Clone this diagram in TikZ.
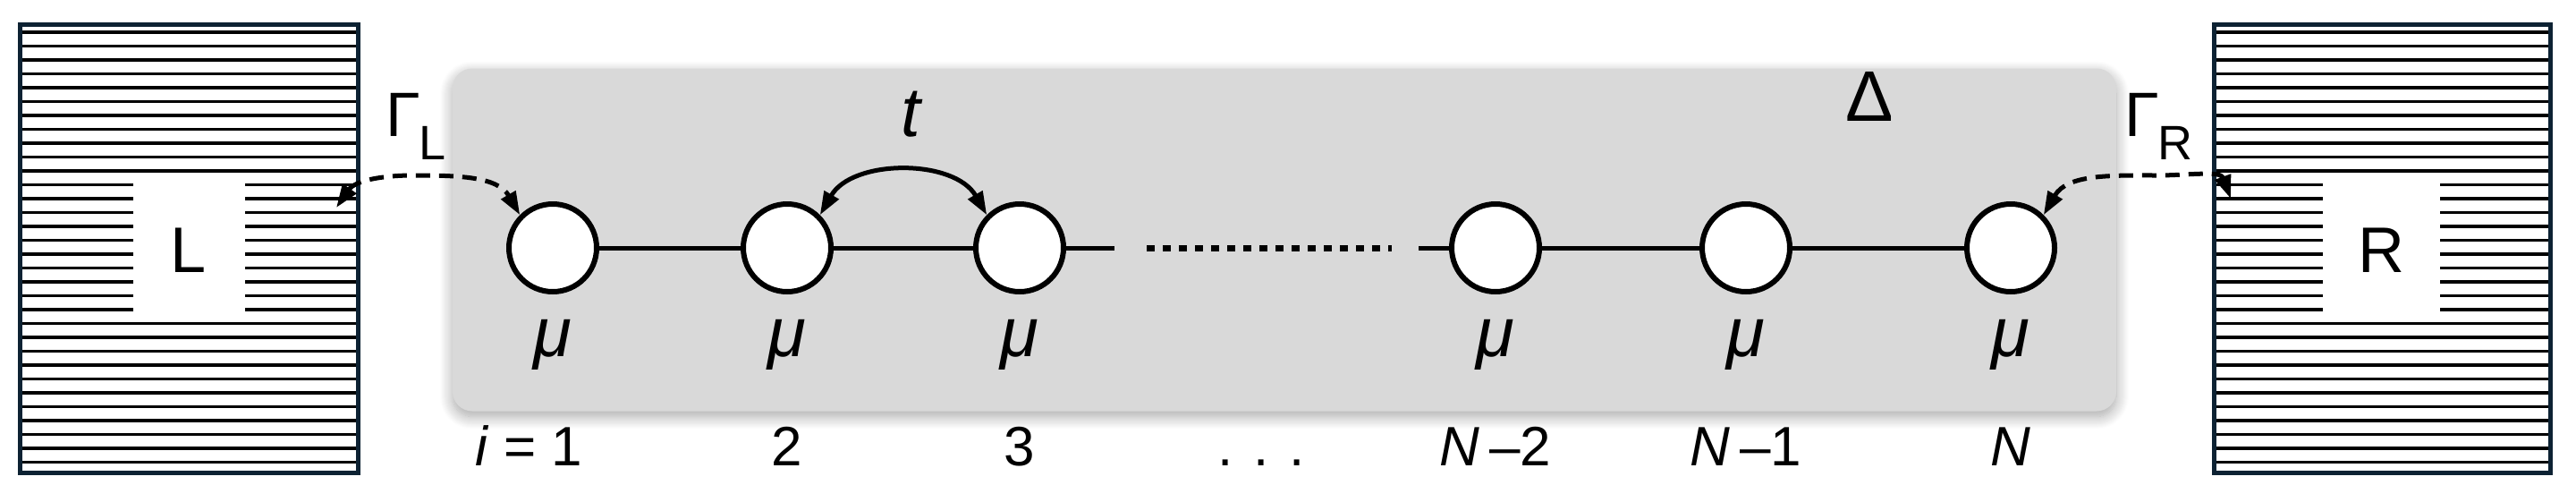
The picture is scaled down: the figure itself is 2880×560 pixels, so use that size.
\documentclass[tikz,border=0pt]{standalone}
\usepackage{fontspec}
\setmainfont{Liberation Sans}
\usetikzlibrary{shadows.blur,arrows.meta}
\definecolor{boxc}{HTML}{0D2233}
\definecolor{grayc}{HTML}{D9D9D9}
\begin{document}
\begin{tikzpicture}[x=1pt,y=-1pt,
  site/.style={circle,draw,line width=6pt,fill=white,minimum size=98pt,inner sep=0pt},
  lbl/.style={font=\fontsize{62}{70}\selectfont},
  mulbl/.style={font=\fontsize{78}{84}\selectfont\itshape},
  arr/.style={line width=5pt,-{Triangle[length=26pt,width=18pt]}},
  darr/.style={line width=5pt,dashed,dash pattern=on 16pt off 10pt,{Triangle[length=26pt,width=18pt]}-{Triangle[length=26pt,width=18pt]}}]
\useasboundingbox (0,0) rectangle (2880,560);
% gray region
\node[fill=grayc,rounded corners=22pt,minimum width=1860pt,minimum height=383pt,blur shadow={shadow blur steps=14,shadow blur radius=14pt,shadow xshift=0pt,shadow yshift=-6pt,shadow opacity=35}] (reg) at (1436,268) {};
% reservoirs
\foreach \xa/\xb/\wa/\wb/\nm in {22/400/149/274/L,2475/2851/2597/2728/R}{
  \foreach \k in {0,...,31}{
    \draw[line width=3.2pt] (\xa,{36+15.5*\k}) -- (\xb,{36+15.5*\k});
  }
  \fill[white] (\wa,202) rectangle (\wb,352);
  \draw[boxc,line width=5pt] (\xa,27) rectangle (\xb,528);
}
\node[font=\fontsize{72}{80}\selectfont] (Lt) at (211,280) {L};
\node[font=\fontsize{72}{80}\selectfont] (Rt) at (2662,280) {R};
\coordinate (Le) at (376,232);
\coordinate (Re) at (2494,222);
% sites
\node[site] (s1) at (618,277) {};
\node[site] (s2) at (880,277) {};
\node[site] (s3) at (1140,277) {};
\node[site] (s4) at (1672,277) {};
\node[site] (s5) at (1952,277) {};
\node[site] (s6) at (2248,277) {};
\coordinate (c3e) at (1246,277);
\coordinate (c4s) at (1586,277);
\draw[line width=5pt] (s1) -- (s2) (s2) -- (s3) (s3) -- (c3e) (c4s) -- (s4) (s4) -- (s5) (s5) -- (s6);
\draw[line width=7pt,dash pattern=on 9pt off 9pt] (1282,277) -- (1556,277);
% labels
\foreach \n/\x in {1/618,2/880,3/1140,4/1672,5/1952,6/2248}{
  \node[mulbl] (mu\n) at (\x,385) {μ};
}
\node[lbl,anchor=base east] (i1) at (655,520) {\textit{i} = 1};
\node[lbl,anchor=base] (i2) at (880,520) {2};
\node[lbl,anchor=base] (i3) at (1140,520) {3};
\node[lbl,anchor=base] (idots) at (1410,520) {. . .};
\node[lbl,anchor=base] (i4) at (1672,520) {\textit{N}\,–2};
\node[lbl,anchor=base] (i5) at (1952,520) {\textit{N}\,–1};
\node[lbl,anchor=base] (i6) at (2248,520) {\textit{N}};
\node[mulbl] (tl) at (1018,128) {t};
\node[font=\fontsize{80}{84}\selectfont] (Dl) at (2090,108) {Δ};
\node[font=\fontsize{70}{70}\selectfont,anchor=base west] (GL) at (428,152) {Γ\kern-2pt\raisebox{-26pt}{\fontsize{54}{60}\selectfont L}};
\node[font=\fontsize{70}{70}\selectfont,anchor=base west] (GR) at (2372,152) {Γ\kern-2pt\raisebox{-26pt}{\fontsize{54}{60}\selectfont R}};
% arrows
\draw[arr,{Triangle[length=26pt,width=18pt]}-{Triangle[length=26pt,width=18pt]}] (s2.north east) to[out=60,in=120] (s3.north west);
\draw[darr] (Le) to[out=55,in=180] (462,196) to[out=0,in=120] (s1.north west);
\draw[darr] (s6.north east) to[out=60,in=180] (2412,196) to[out=0,in=110] (Re);
\end{tikzpicture}
\end{document}
